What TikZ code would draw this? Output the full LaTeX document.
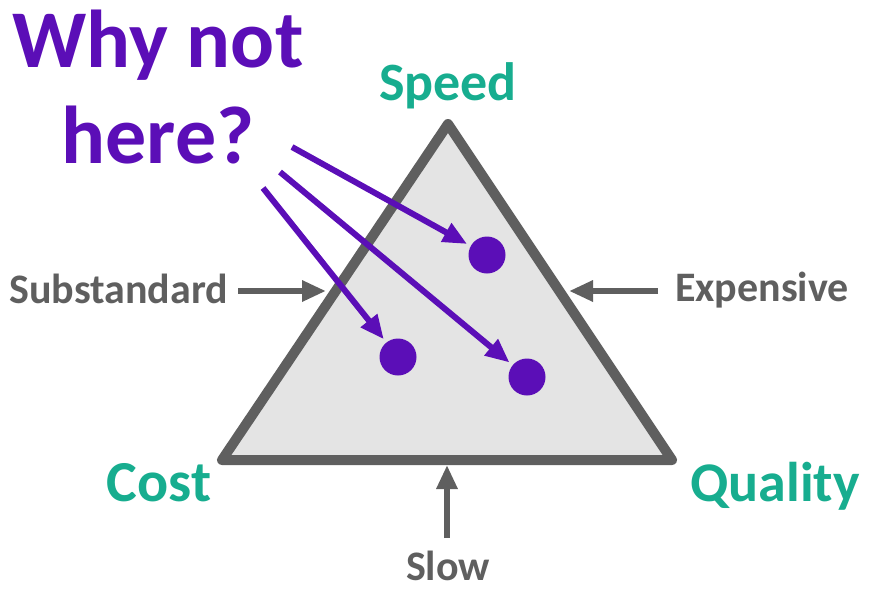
\documentclass[tikz,border=0pt]{standalone}
\usepackage{fontspec}
\setmainfont{Carlito}
\usetikzlibrary{arrows.meta}
\definecolor{purp}{HTML}{5B0EB7}
\definecolor{tealc}{HTML}{17AD8F}
\definecolor{dgray}{HTML}{5F5F5F}
\definecolor{lgray}{HTML}{E4E4E4}
\begin{document}
\begin{tikzpicture}[x=1pt,y=-1pt,
  corner/.style={text=tealc,font=\bfseries\fontsize{56}{60}\selectfont,inner sep=0pt},
  side/.style={text=dgray,font=\bfseries\fontsize{42}{46}\selectfont,inner sep=0pt},
  pointer/.style={draw=purp,line width=6pt,-{Triangle[length=24pt,width=20pt]}},
  push/.style={draw=dgray,line width=6pt,-{Triangle[length=24pt,width=20pt]}},
  dot/.style={circle,fill=purp,minimum size=37pt,inner sep=0pt},
  trifill/.style={draw=dgray,fill=lgray,line width=10pt,line join=round}]
\useasboundingbox (0,0) rectangle (889,595);
% triangle
\coordinate (A) at (448,124);
\coordinate (B) at (222,460);
\coordinate (C) at (672,460);
\draw[trifill] (A) -- (B) -- (C) -- cycle;
% corner labels
\node[corner,anchor=base,font=\bfseries\fontsize{54}{58}\selectfont] (speed) at (448,100) {Speed};
\node[corner,anchor=base,font=\bfseries\fontsize{58}{62}\selectfont] (cost) at (159,501) {Cost};
\node[corner,anchor=base] (quality) at (775,501) {Quality};
% side labels
\node[side,anchor=base west] (sub) at (9,303) {Substandard};
\node[side,anchor=base west] (exp) at (675,301) {Expensive};
\node[side,anchor=base] (slow) at (448,580) {Slow};
\coordinate (subS) at (238,291);
\coordinate (subE) at (326,291);
\coordinate (expS) at (658,291);
\coordinate (expE) at (569,291);
\coordinate (slowS) at (447,538);
\coordinate (slowE) at (447,465);
\draw[push] (subS) -- (subE);
\draw[push] (expS) -- (expE);
\draw[push] (slowS) -- (slowE);
% question
\node[text=purp,font=\bfseries\fontsize{82}{96}\selectfont,align=center,inner sep=0pt,anchor=base] (why) at (158,163) {Why not\\here?};
% dots
\node[dot] (d1) at (487,255) {};
\node[dot] (d2) at (398,357) {};
\node[dot] (d3) at (527,377) {};
\coordinate (s1) at (292,147);
\coordinate (s2) at (280,172);
\coordinate (s3) at (263,188);
\draw[pointer,shorten >=4pt] (s1) -- (d1);
\draw[pointer,shorten >=4pt] (s2) -- (d3);
\draw[pointer,shorten >=4pt] (s3) -- (d2);
\end{tikzpicture}
\end{document}
